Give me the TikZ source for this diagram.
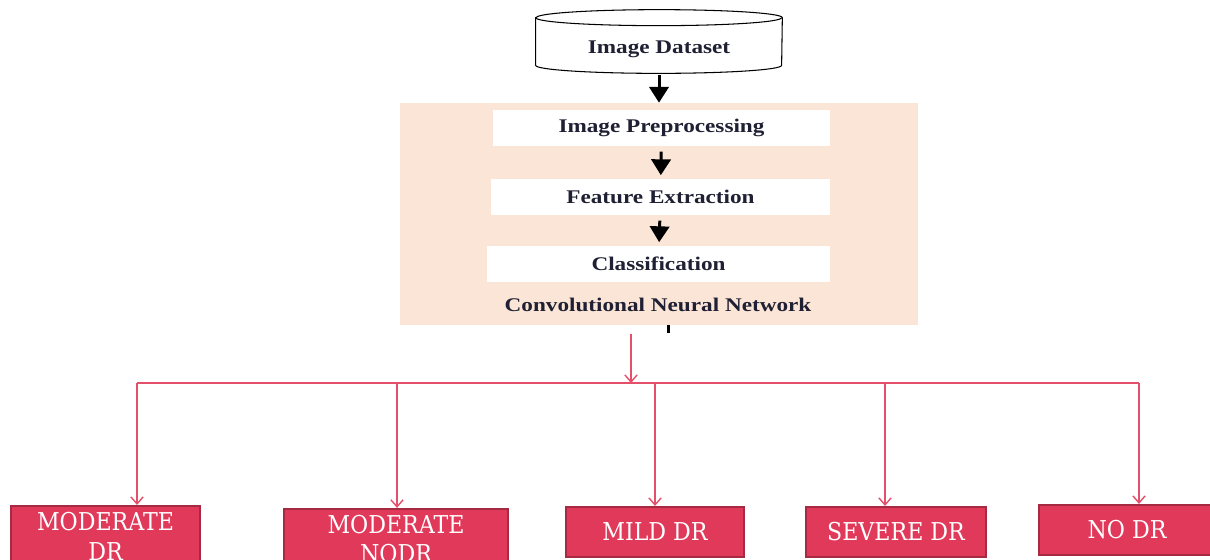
\documentclass[tikz,border=0pt]{standalone}
\usepackage{fontspec}
\setmainfont{Liberation Serif}
\newfontfamily\stagefont[FakeStretch=1.2]{Liberation Serif}
\newfontfamily\clsfont{DejaVu Serif Condensed}
\usepackage{xcolor}
\usepackage{tikz}
\usetikzlibrary{positioning, arrows.meta}

\definecolor{peach}{HTML}{FBE5D6}
\definecolor{crimson}{HTML}{E0395A}
\definecolor{crimsonedge}{HTML}{A62B42}
\definecolor{pinkline}{HTML}{E4506B}
\definecolor{inktxt}{HTML}{1F2033}

\tikzset{
  stagetxt/.style={font=\stagefont\bfseries\fontsize{11}{13}\selectfont, text=inktxt},
  stage/.style={stagetxt, fill=white, minimum height=0.72cm},
  cls/.style={fill=crimson, draw=crimsonedge, line width=1.2pt, text=white, align=center,
              font=\clsfont\fontsize{14}{17}\selectfont},
  blk/.style={line width=1.7pt, -{Triangle[width=11pt,length=9pt]}},
  rl/.style={pinkline, line width=0.8pt},
  rarr/.style={rl, -{Straight Barb[width=7pt,length=4pt]}}
}

\begin{document}
\begin{tikzpicture}[x=0.02cm, y=-0.02cm]
\useasboundingbox (0,0) rectangle (1210,559);
\clip (0,0) rectangle (1210,559);
%\fill[white] (0,0) rectangle (1210,559);
\node[minimum width=4.92cm, minimum height=0.94cm] (data) at (659,41.5) {};
\draw[line width=0.6pt, fill=white] (data.north west) -- (data.south west)
   arc[start angle=180, end angle=360, x radius=2.46cm, y radius=0.16cm] -- (data.north east)
   arc[start angle=0, end angle=180, x radius=2.46cm, y radius=0.16cm] -- cycle;
\draw[line width=0.6pt] (data.north west) arc[start angle=180, end angle=360, x radius=2.46cm, y radius=0.16cm];
\node[stagetxt] (datalbl) at (659,49) {Image Dataset};
\node[fill=peach, minimum width=10.36cm, minimum height=4.44cm] (cnn) at (659,214) {};
\node[stage, minimum width=6.74cm] (prep) at (661.5,128) {Image Preprocessing};
\node[stage, minimum width=6.78cm] (feat) at (660.5,197) {Feature Extraction};
\node[stage, minimum width=6.86cm] (clsf) at (658.5,264) {Classification};
\node[stagetxt] (cnnlbl) at (658,305) {Convolutional Neural Network};

\draw[blk] ([yshift=-0.2cm]data.south) -- (cnn.north);
\draw[blk, shorten <=3pt, shorten >=2pt] (prep) -- (feat);
\draw[blk, shorten <=3pt, shorten >=2pt] (feat) -- (clsf);
\coordinate (tick) at (668,333);
\draw[line width=1.7pt] (cnn.south -| tick) -- (tick);

% output classes
\node[cls, minimum width=3.78cm, minimum height=1.2cm] (mdr) at (105.5,536) {MODERATE\\DR};
\node[cls, minimum width=4.48cm, minimum height=1.12cm] (mnodr) at (396,539) {MODERATE\\NODR};
\node[cls, minimum width=3.56cm, minimum height=1.0cm] (mild) at (655,532) {MILD DR};
\node[cls, minimum width=3.6cm, minimum height=1.0cm] (sev) at (896,532) {SEVERE DR};
\node[cls, minimum width=3.52cm, minimum height=1.0cm] (nodr) at (1127,530) {NO DR};

\coordinate (rtop) at (631,334);
\coordinate (split) at (631,383);
\coordinate (b1) at (137,383);
\coordinate (b2) at (397,383);
\coordinate (b3) at (655,383);
\coordinate (b4) at (885,383);
\coordinate (b5) at (1139,383);
\draw[rarr] (rtop) -- (split);
\draw[rl] (b1) -- (b5);
\foreach \b/\n in {b1/mdr, b2/mnodr, b3/mild, b4/sev, b5/nodr}
  \draw[rarr] (\b) -- (\b |- \n.north);
\end{tikzpicture}
\end{document}
